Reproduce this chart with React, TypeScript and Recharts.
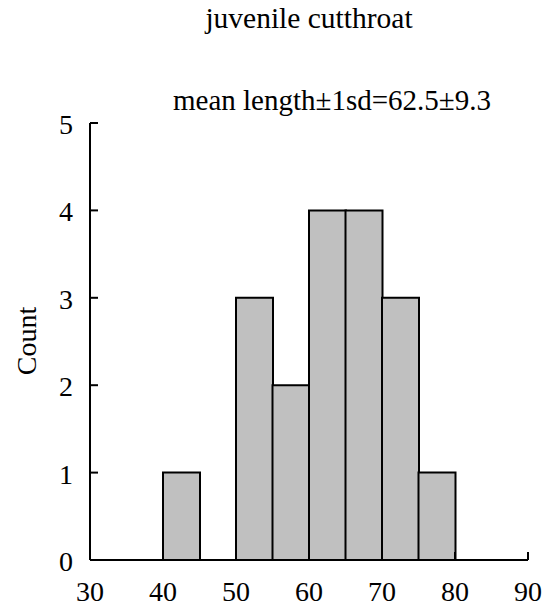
import { BarChart, Bar, XAxis, YAxis } from 'recharts';

// histogram bins (5 mm wide) and counts
const binStarts = [30, 35, 40, 45, 50, 55, 60, 65, 70, 75, 80, 85];
const counts = [0, 0, 1, 0, 3, 2, 4, 4, 3, 1, 0, 0];
const xTicks = [30, 40, 50, 60, 70, 80, 90];
const yTicks = [0, 1, 2, 3, 4, 5];

const data = binStarts.map((start, i) => ({
  bin: `${start}-${start + 5}`,
  mid: start + 2.5,
  count: counts[i],
}));

const FONT = '"Liberation Serif", "Times New Roman", serif';

const XTick = (props: any) => {
  const { x, y, payload } = props;
  return (
    <g>
      <line x1={x} y1={y} x2={x} y2={y - 8} stroke="#000" strokeWidth={2} />
      <text x={x} y={y + 41} textAnchor="middle" fontSize={28} fontFamily={FONT} fill="#000">
        {payload.value}
      </text>
    </g>
  );
};

const YTick = (props: any) => {
  const { x, y, payload } = props;
  return (
    <g>
      <line x1={x} y1={y} x2={x + 8} y2={y} stroke="#000" strokeWidth={2} />
      <text x={x - 17} y={y + 11} textAnchor="end" fontSize={28} fontFamily={FONT} fill="#000">
        {payload.value}
      </text>
    </g>
  );
};

export default function App() {
  return (
    <div style={{ position: 'absolute', left: 0, top: 0, width: 544, height: 609, background: '#fff' }}>
      <BarChart
        width={544}
        height={609}
        data={data}
        margin={{ top: 123, right: 16, bottom: 0, left: 0 }}
        barCategoryGap={0}
      >
        <XAxis
          xAxisId="num"
          dataKey="mid"
          type="number"
          domain={[30, 90]}
          ticks={xTicks}
          height={49}
          tickSize={0}
          tickMargin={0}
          tick={<XTick />}
          axisLine={{ stroke: '#000', strokeWidth: 2 }}
          allowDataOverflow
        />
        <XAxis dataKey="bin" xAxisId="cat" height={0} hide />
        <YAxis
          domain={[0, 5]}
          ticks={yTicks}
          width={90}
          tickSize={0}
          tickMargin={0}
          tick={<YTick />}
          axisLine={{ stroke: '#000', strokeWidth: 2 }}
        />
        <Bar
          dataKey="count"
          xAxisId="cat"
          fill="#c0c0c0"
          stroke="#000"
          strokeWidth={2}
          isAnimationActive={false}
        />
        <text x={309} y={28} textAnchor="middle" fontSize={29.5} fontFamily={FONT} fill="#000">
          juvenile cutthroat
        </text>
        <text x={332} y={110} textAnchor="middle" fontSize={29} fontFamily={FONT} fill="#000">
          mean length±1sd=62.5±9.3
        </text>
        <text
          x={26}
          y={341}
          transform="rotate(-90 26 341)"
          textAnchor="middle"
          dominantBaseline="central"
          fontSize={28}
          fontFamily={FONT}
          fill="#000"
        >
          Count
        </text>
      </BarChart>
    </div>
  );
}
